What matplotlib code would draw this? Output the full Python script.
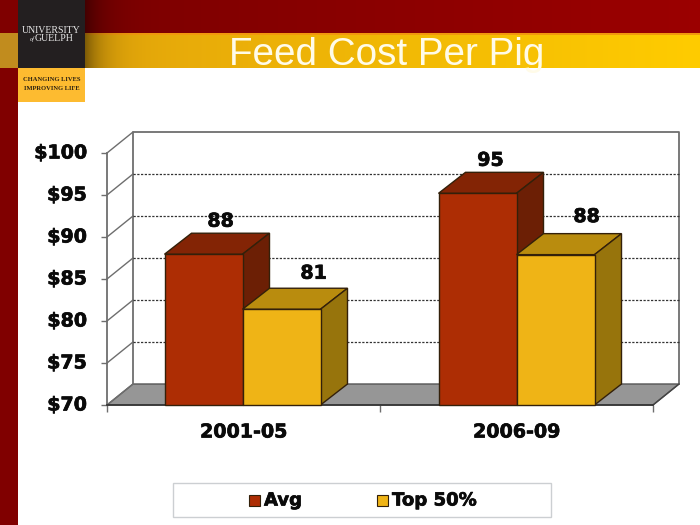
import matplotlib
matplotlib.use('Agg')
import matplotlib.pyplot as plt
import numpy as np
import matplotlib.patheffects as pe
from matplotlib.patches import Polygon, Rectangle
from matplotlib.transforms import ScaledTranslation

categories = ['2001-05', '2006-09']
avg_values = [87.95, 95.2]
top_values = [81.4, 87.9]
avg_labels = ['88', '95']
top_labels = ['81', '88']
y_ticks = [70, 75, 80, 85, 90, 95, 100]
y_tick_labels = ['$70', '$75', '$80', '$85', '$90', '$95', '$100']
legend_names = ['Avg', 'Top 50%']

AVG = ('#AD2D04', '#832405', '#6C1F05')
TOP = ('#EFB416', '#B98C0E', '#97740C')
EDGE = '#33200A'
W, H = 700, 525
BOLD = [pe.withStroke(linewidth=0.5, foreground='#0A0A0A')]

fig = plt.figure(figsize=(7, 5.25), dpi=100, facecolor='white')

# slide background, in pixel coords
bg = fig.add_axes([0, 0, 1, 1])
bg.set_xlim(0, W)
bg.set_ylim(H, 0)
bg.axis('off')

c_left = np.array([0.47, 0.0, 0.0])
c_right = np.array([0.61, 0.0, 0.0])
g_left = np.array([0.88, 0.63, 0.05])
g_right = np.array([1.0, 0.80, 0.0])
t = np.linspace(0, 1, W)[:, None]
band = np.zeros((68, W, 3))
band[:33] = c_left * (1 - t) + c_right * t
band[33:] = g_left * (1 - t) + g_right * t
band[33:35] = np.array([0.95, 0.6, 0.05])
# shadow next to the logo box
shade = 1 - 0.45 * np.exp(-np.clip(np.arange(W) - 85, 0, None) / 18.0)[:, None]
band = band * shade
band[:, :18] = np.array([0.50, 0.0, 0.0])
band[33:68, :18] = np.array([0.76, 0.55, 0.12])
bg.imshow(band, extent=(0, W, 68, 0), aspect='auto', interpolation='bilinear')
bg.set_xlim(0, W)
bg.set_ylim(H, 0)

bg.add_patch(Rectangle((0, 68), 18, H - 68, color='#800000', lw=0))
bg.add_patch(Rectangle((18, 0), 67, 68, color='#231F20', lw=0))
bg.add_patch(Rectangle((18, 68), 67, 34, color='#FDBB30', lw=0))
bg.text(51.5, 30.5, 'UNIVERSITY', color='#E8E8E8', fontsize=7.1, family='Liberation Serif',
        ha='center', va='center')
bg.text(54, 38.5, 'GUELPH', color='#E8E8E8', fontsize=7.1, family='Liberation Serif',
        ha='center', va='center')
bg.text(32, 39, 'of', color='#E8E8E8', fontsize=4.5, family='Liberation Serif',
        style='italic', ha='center', va='center')
bg.text(52, 79.5, 'CHANGING LIVES', color='#2A2010', fontsize=4.7, family='Liberation Serif',
        weight='bold', ha='center', va='center')
bg.text(52, 88.5, 'IMPROVING LIFE', color='#2A2010', fontsize=4.7, family='Liberation Serif',
        weight='bold', ha='center', va='center')
bg.text(386.5, 65, 'Feed Cost Per Pig', color='#FFFBE8', fontsize=27.8,
        family='Liberation Sans', ha='center', va='baseline', zorder=5)

# chart: axes = front plane of the 3d box
ax = fig.add_axes([107 / W, 1 - 405 / H, 546 / W, 252 / H])
ax.patch.set_alpha(0)
ax.set_xlim(0, 2)
ax.set_ylim(70, 100)
for s in ax.spines.values():
    s.set_visible(False)

dx = 26 / 273
dy = 2.5
x0, x1 = ax.get_xlim()
y0, y1 = ax.get_ylim()
WALL = '#6E6E6E'

ax.add_patch(Polygon([(x0, y0), (x1, y0), (x1 + dx, y0 + dy), (x0 + dx, y0 + dy)],
                     facecolor='#969696', edgecolor='#555555', lw=1, clip_on=False, zorder=1))
ax.plot([x0 + dx, x0 + dx, x1 + dx, x1 + dx], [y0 + dy, y1 + dy, y1 + dy, y0 + dy],
        color=WALL, lw=1.3, clip_on=False, zorder=1)
ax.plot([x0, x0], [y0, y1], color=WALL, lw=1.3, clip_on=False, zorder=1)
ax.plot([x1, x1 + dx], [y0, y0 + dy], color='#444444', lw=1, clip_on=False, zorder=1)
for v in y_ticks:
    ax.plot([x0, x0 + dx], [v, v + dy], color=WALL, lw=1, clip_on=False, zorder=1)
    if 70 < v < 100:
        ax.plot([x0 + dx, x1 + dx], [v + dy, v + dy], color='#333333', lw=0.9,
                ls=(0, (1.8, 1.2)), clip_on=False, zorder=1)
ax.plot([x0, x1], [y0, y0], color='#333333', lw=1.2, clip_on=False, zorder=2)

ax.set_xticks([0, 1, 2])
ax.set_xticklabels([])
ax.set_yticks(y_ticks)
ax.set_yticklabels(y_tick_labels, fontsize=13.7, fontweight='bold', color='#0A0A0A')
ax.tick_params(axis='y', length=4, width=1, color=WALL, pad=10.5)
ax.tick_params(axis='x', length=5, width=1, color=WALL)
up = ScaledTranslation(0, 2 / 100, fig.dpi_scale_trans)
for lab in ax.get_yticklabels():
    lab.set_transform(lab.get_transform() + up)
    lab.set_path_effects(BOLD)
for i, cat in enumerate(categories):
    ax.annotate(cat, (i + 0.5, 70), xytext=(0, -27), textcoords='offset pixels', ha='center',
                va='center', fontsize=13.7, fontweight='bold', color='#0A0A0A',
                annotation_clip=False, path_effects=BOLD)

bw = 78 / 273
bdx = 27 / 273
nudges = [1 / 273, 0]


def draw_bar(x, v, cols, z):
    ax.bar(x, v - 70, bw, bottom=70, align='edge', color=cols[0], edgecolor=EDGE, lw=1,
           zorder=z + 0.2, clip_on=False)
    ax.add_patch(Polygon([(x, v), (x + bw, v), (x + bw + bdx, v + dy), (x + bdx, v + dy)],
                         facecolor=cols[1], edgecolor=EDGE, lw=1, clip_on=False, zorder=z))
    ax.add_patch(Polygon([(x + bw, 70), (x + bw + bdx, 70 + dy), (x + bw + bdx, v + dy), (x + bw, v)],
                         facecolor=cols[2], edgecolor=EDGE, lw=1, clip_on=False, zorder=z))


label_offsets = [[(17, 33), (32, 36)], [(13, 33), (31, 38)]]
for i in range(len(categories)):
    xa = i + 0.5 - bw - nudges[i]
    xt = i + 0.5 - nudges[i]
    draw_bar(xa, avg_values[i], AVG, 3)
    draw_bar(xt, top_values[i], TOP, 4)
    ax.annotate(avg_labels[i], (xa + bw / 2, avg_values[i]), xytext=label_offsets[i][0],
                textcoords='offset pixels', ha='center', va='center', fontsize=13.7, fontweight='bold',
                color='#0A0A0A', zorder=6, annotation_clip=False, path_effects=BOLD)
    ax.annotate(top_labels[i], (xt + bw / 2, top_values[i]), xytext=label_offsets[i][1],
                textcoords='offset pixels', ha='center', va='center', fontsize=13.7, fontweight='bold',
                color='#0A0A0A', zorder=6, annotation_clip=False, path_effects=BOLD)

# legend box
bg.add_patch(Rectangle((172.5, 483), 378, 34, facecolor='white', edgecolor='#CCCFD2', lw=1))
for name, cols, sx in zip(legend_names, (AVG, TOP), (249, 377)):
    bg.add_patch(Rectangle((sx, 495), 11, 11, facecolor=cols[0], edgecolor=EDGE, lw=0.8))
    bg.text(sx + 15, 500.5, name, fontsize=13, fontweight='bold', color='#0A0A0A',
            ha='left', va='center', path_effects=BOLD)

fig.savefig('out.png', dpi=100)
